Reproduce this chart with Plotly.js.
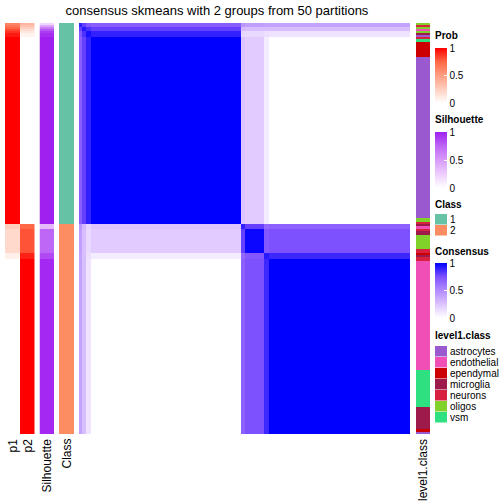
<!DOCTYPE html>
<html>
<head>
<meta charset="utf-8">
<script src="https://cdn.plot.ly/plotly-3.0.1.min.js"></script>
<style>html,body{margin:0;padding:0;background:#fff;}#chart{width:504px;height:504px;}</style>
</head>
<body>
<div id="chart"></div>
<script>
// ---------------- data ----------------
const nSamples = 200;
// run-length encoded annotation rows (sample index edges, top to bottom)
const annoEdges = [0, 1, 2, 3, 4, 5, 7, 98, 100, 112, 115, 200];
const p1Vals    = [0.62, 0.68, 0.75, 0.82, 0.88, 0.94, 1.0, 0.25, 0.2, 0.08, 0.0];
const p2Vals    = [0.38, 0.32, 0.25, 0.18, 0.12, 0.06, 0.0, 0.75, 0.8, 0.92, 1.0];
const silVals   = [0.2, 0.45, 0.65, 0.8, 0.9, 0.95, 1.0, 0.35, 0.75, 0.85, 0.97];

const classEdges = [0, 98, 200];
const classVals  = [1, 2];
const classNames = ['1', '2'];
const classColors = ['#66C2A5', '#FC8D62'];

// consensus matrix, block structure (same order for rows and columns)
const consEdges = [0, 2, 4, 7, 98, 100, 112, 115, 200];
const consMatrix = [
  [0.90, 0.80, 0.72, 0.70, 0.45, 0.42, 0.40, 0.40],
  [0.80, 0.92, 0.85, 0.80, 0.30, 0.28, 0.28, 0.28],
  [0.72, 0.85, 0.95, 0.90, 0.18, 0.16, 0.13, 0.12],
  [0.70, 0.80, 0.90, 1.00, 0.25, 0.22, 0.08, 0.00],
  [0.45, 0.30, 0.18, 0.25, 0.90, 0.80, 0.65, 0.68],
  [0.42, 0.28, 0.16, 0.22, 0.80, 0.98, 0.72, 0.75],
  [0.40, 0.28, 0.13, 0.08, 0.65, 0.72, 0.92, 0.88],
  [0.40, 0.28, 0.12, 0.00, 0.68, 0.75, 0.88, 1.00]
];

const level1Categories = ['astrocytes', 'endothelial', 'ependymal', 'microglia', 'neurons', 'oligos', 'vsm'];
const level1Colors = ['#9B59D0', '#F050B5', '#CC0000', '#9E1A4A', '#D8203F', '#80D12A', '#2FE080'];
const level1Edges = [0, 1, 2, 3, 4, 5, 6, 7, 8, 9, 16.5, 95, 97, 98, 99, 100, 101, 103, 110, 112, 113, 114, 116, 169, 187, 197.5, 199, 200];
const level1Labels = ['oligos', 'neurons', 'oligos', 'endothelial', 'oligos', 'microglia', 'astrocytes', 'neurons', 'vsm', 'ependymal',
  'astrocytes', 'oligos', 'neurons', 'microglia', 'endothelial', 'neurons', 'microglia', 'oligos', 'neurons', 'ependymal', 'microglia', 'neurons',
  'endothelial', 'vsm', 'microglia', 'ependymal', 'astrocytes'];

const colTitles = ['p1', 'p2', 'Silhouette', 'Class', 'level1.class'];

// ---------------- styling helpers ----------------
const FONT = 'Liberation Sans, Arial, Helvetica, sans-serif';
const W = 504, H = 504;
const px = v => v / W;
const py = v => 1 - v / H;

// LAB-like interpolated colour ramps
const probScale = [[0, '#FFFFFF'], [0.25, '#FFCFBE'], [0.5, '#FF9D82'], [0.75, '#FF6846'], [1, '#FF0000']];
const silScale  = [[0, '#FFFFFF'], [0.25, '#EDCDFD'], [0.5, '#D89AF9'], [0.75, '#BE66F5'], [1, '#A020F0']];
const consScale = [[0, '#FFFFFF'], [0.25, '#DDC4FF'], [0.5, '#B38BFF'], [0.75, '#7E51FF'], [1, '#0000FF']];

function colZ(vals) { return vals.map(v => [v]); }
function discreteScale(colors) {
  const k = colors.length, s = [];
  colors.forEach((c, i) => { s.push([i / k, c]); s.push([(i + 1) / k, c]); });
  return s;
}

const yTop = 23, yBot = 434;
const ydom = [py(yBot), py(yTop)];

function cbar(yStart, lenPx) {
  return {
    x: px(435), xanchor: 'left', xpad: 0,
    y: py(yStart), yanchor: 'top', ypad: 0,
    len: lenPx, lenmode: 'pixels', thickness: 12, thicknessmode: 'pixels',
    outlinewidth: 0, borderwidth: 0,
    tickvals: [0, 0.5, 1], ticktext: ['0', '0.5', '1'],
    ticks: 'inside', ticklen: 3, tickcolor: '#FFFFFF',
    tickfont: {family: FONT, size: 10, color: '#000'}
  };
}

const traces = [];
// p1
traces.push({type: 'heatmap', xaxis: 'x', yaxis: 'y', x: [0, 1], y: annoEdges, z: colZ(p1Vals),
  zmin: 0, zmax: 1, colorscale: probScale, showscale: true, colorbar: cbar(48, 55), hoverinfo: 'skip'});
// p2
traces.push({type: 'heatmap', xaxis: 'x2', yaxis: 'y', x: [0, 1], y: annoEdges, z: colZ(p2Vals),
  zmin: 0, zmax: 1, colorscale: probScale, showscale: false, hoverinfo: 'skip'});
// silhouette
traces.push({type: 'heatmap', xaxis: 'x3', yaxis: 'y', x: [0, 1], y: annoEdges, z: colZ(silVals),
  zmin: 0, zmax: 1, colorscale: silScale, showscale: true, colorbar: cbar(132, 56), hoverinfo: 'skip'});
// class
traces.push({type: 'heatmap', xaxis: 'x4', yaxis: 'y', x: [0, 1], y: classEdges, z: colZ(classVals.map(v => v - 1)),
  zmin: -0.5, zmax: classColors.length - 0.5, colorscale: discreteScale(classColors), showscale: false, hoverinfo: 'skip'});
// consensus
traces.push({type: 'heatmap', xaxis: 'x5', yaxis: 'y', x: consEdges, y: consEdges, z: consMatrix,
  zmin: 0, zmax: 1, colorscale: consScale, showscale: true, colorbar: cbar(263, 55), hoverinfo: 'skip'});
// level1.class
traces.push({type: 'heatmap', xaxis: 'x6', yaxis: 'y', x: [0, 1], y: level1Edges,
  z: colZ(level1Labels.map(l => level1Categories.indexOf(l))),
  zmin: -0.5, zmax: level1Categories.length - 0.5, colorscale: discreteScale(level1Colors), showscale: false, hoverinfo: 'skip'});

function xa(l, r, range) {
  return {domain: [px(l), px(r)], range: range, type: 'linear', visible: false, fixedrange: true};
}

const annotations = [];
const shapes = [];
// column labels (rotated)
const colCenters = [12.5, 27.5, 46.5, 66.5, 423];
colTitles.forEach((t, i) => {
  annotations.push({text: t, x: px(colCenters[i]), y: py(437), xref: 'paper', yref: 'paper',
    xanchor: 'center', yanchor: 'top', textangle: -90, showarrow: false,
    font: {family: FONT, size: 12, color: '#000'}});
});
// legend titles
const legTitles = [['Prob', 36], ['Silhouette', 119], ['Class', 204], ['Consensus', 251], ['level1.class', 335]];
legTitles.forEach(([t, y]) => {
  annotations.push({text: '<b>' + t + '</b>', x: px(434), y: py(y), xref: 'paper', yref: 'paper',
    xanchor: 'left', yanchor: 'middle', showarrow: false, borderpad: 0,
    font: {family: FONT, size: 10, color: '#000'}});
});
// discrete legends
function discreteLegend(names, colors, yStart) {
  names.forEach((n, i) => {
    const y0 = yStart + i * 11;
    shapes.push({type: 'rect', xref: 'paper', yref: 'paper', x0: px(435), x1: px(447), y0: py(y0), y1: py(y0 + 10.5),
      fillcolor: colors[i], line: {width: 0}});
    annotations.push({text: n, x: px(449), y: py(y0 + 5.5), xref: 'paper', yref: 'paper', xanchor: 'left', yanchor: 'middle',
      showarrow: false, borderpad: 0, font: {family: FONT, size: 10, color: '#000'}});
  });
}
discreteLegend(classNames, classColors, 214);
discreteLegend(level1Categories, level1Colors, 346);

const layout = {
  width: W, height: H,
  margin: {l: 0, r: 0, t: 0, b: 0},
  paper_bgcolor: '#FFFFFF', plot_bgcolor: '#FFFFFF',
  showlegend: false,
  title: {text: 'consensus skmeans with 2 groups from 50 partitions', x: px(217), xanchor: 'center', xref: 'paper',
    y: py(10), yanchor: 'middle', yref: 'paper', font: {family: FONT, size: 13, color: '#000'}},
  xaxis: xa(5, 20, [0, 1]),
  xaxis2: xa(20, 34.5, [0, 1]),
  xaxis3: xa(39.5, 54, [0, 1]),
  xaxis4: xa(59, 74, [0, 1]),
  xaxis5: xa(79, 410, [0, nSamples]),
  xaxis6: xa(416, 430, [0, 1]),
  yaxis: {domain: ydom, range: [nSamples, 0], type: 'linear', visible: false, fixedrange: true},
  annotations: annotations,
  shapes: shapes
};

Plotly.newPlot('chart', traces, layout, {staticPlot: true, displayModeBar: false});
</script>
</body>
</html>
